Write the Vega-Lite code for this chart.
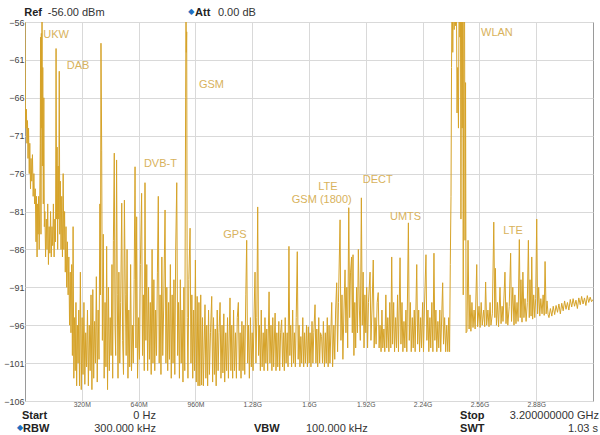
{
  "$schema": "https://vega.github.io/schema/vega-lite/v6.json",
  "width": 568,
  "height": 379,
  "autosize": "none",
  "padding": {"left": 25, "top": 22, "right": 7, "bottom": 34},
  "background": "white",
  "config": {
    "view": {"stroke": "#9a9a9a", "strokeWidth": 1},
    "font": "Liberation Sans"
  },
  "encoding": {
    "x": {
      "field": "f",
      "type": "quantitative",
      "scale": {"domain": [0, 3200], "nice": false, "zero": false},
      "axis": {
        "title": null,
        "values": [320, 640, 960, 1280, 1600, 1920, 2240, 2560, 2880],
        "labelExpr": "datum.value < 1000 ? datum.value + 'M' : (datum.value / 1000) + 'G'",
        "labelFontSize": 6.8,
        "labelColor": "#555555",
        "labelPadding": 0,
        "ticks": false,
        "domain": false,
        "grid": true,
        "gridColor": "#d9d9d9"
      }
    },
    "y": {
      "field": "p",
      "type": "quantitative",
      "scale": {"domain": [-106, -56], "nice": false, "zero": false},
      "axis": {
        "title": null,
        "values": [-56, -61, -66, -71, -76, -81, -86, -91, -96, -101, -106],
        "labelFontSize": 9,
        "labelColor": "#444444",
        "labelPadding": 1,
        "ticks": false,
        "domain": false,
        "grid": true,
        "gridColor": "#d9d9d9"
      }
    }
  },
  "layer": [
    {
      "data": {"values": [
        {"f":0,"p":-56},{"f":2,"p":-67},{"f":5,"p":-70},{"f":8,"p":-67.5},{"f":11,"p":-72},{"f":14,"p":-69},{"f":17,"p":-74},{"f":20,"p":-70},{"f":24,"p":-76},{"f":27,"p":-72},{"f":31,"p":-78},{"f":34,"p":-74},{"f":38,"p":-77},{"f":42,"p":-73.5},{"f":46,"p":-79},{"f":50,"p":-76},{"f":54,"p":-80},{"f":58,"p":-78},
        {"f":62,"p":-85},{"f":65,"p":-79},{"f":68,"p":-87},{"f":71,"p":-80},{"f":74,"p":-84},{"f":77,"p":-79},{"f":80,"p":-86},{"f":83,"p":-80},
        {"f":86,"p":-72},{"f":88,"p":-58},{"f":90,"p":-84},{"f":92,"p":-57.5},{"f":94,"p":-70},{"f":96,"p":-55},{"f":98,"p":-75},{"f":100,"p":-62},{"f":103,"p":-80},{"f":106,"p":-66},{"f":109,"p":-83},
        {"f":112,"p":-81},{"f":116,"p":-87},{"f":120,"p":-82},{"f":124,"p":-86},{"f":128,"p":-80},{"f":132,"p":-88},{"f":136,"p":-83},{"f":140,"p":-86.5},{"f":144,"p":-81},{"f":148,"p":-87},{"f":152,"p":-83},{"f":156,"p":-85.5},{"f":160,"p":-80},{"f":164,"p":-87},{"f":168,"p":-82},
        {"f":172,"p":-85},{"f":175,"p":-59.5},{"f":178,"p":-82},{"f":181,"p":-72.5},{"f":184,"p":-86},{"f":187,"p":-75},{"f":190,"p":-82},{"f":193,"p":-62.5},{"f":196,"p":-84},{"f":199,"p":-77},{"f":203,"p":-86},{"f":207,"p":-79},{"f":211,"p":-87},{"f":215,"p":-76},{"f":219,"p":-86},{"f":223,"p":-81},{"f":227,"p":-89},
        {"f":231,"p":-83},{"f":235,"p":-91},{"f":239,"p":-85},{"f":243,"p":-92},{"f":247,"p":-87},{"f":251,"p":-96},{"f":255,"p":-89},{"f":259,"p":-97},{"f":263,"p":-88},{"f":267,"p":-100},{"f":271,"p":-83},{"f":275,"p":-103},{"f":279,"p":-95},{"f":283,"p":-102},{"f":287,"p":-93},{"f":291,"p":-104},{"f":295,"p":-96},{"f":299,"p":-101},{"f":303,"p":-94},{"f":307,"p":-104},
        {"f":312,"p":-89},{"f":317,"p":-104.5},{"f":322,"p":-95},{"f":327,"p":-102.5},{"f":332,"p":-93},{"f":337,"p":-103.8},{"f":342,"p":-97},{"f":347,"p":-101.5},{"f":352,"p":-94},{"f":357,"p":-104},{"f":362,"p":-96},{"f":367,"p":-102},{"f":372,"p":-92},{"f":377,"p":-104.5},{"f":382,"p":-91.3},{"f":387,"p":-103},{"f":392,"p":-95.5},{"f":397,"p":-101},{"f":402,"p":-89.6},{"f":407,"p":-103.5},{"f":412,"p":-94},{"f":417,"p":-100.5},{"f":422,"p":-80},{"f":425,"p":-92},{"f":428,"p":-58.8},{"f":432,"p":-72.9},{"f":436,"p":-98},{"f":441,"p":-84},{"f":446,"p":-103},{"f":451,"p":-93},{"f":456,"p":-101.5},{"f":460,"p":-85.6},{"f":465,"p":-104.5},{"f":470,"p":-91},{"f":475,"p":-102},{"f":480,"p":-95},{"f":485,"p":-100},{"f":490,"p":-88},{"f":494,"p":-103},{"f":498,"p":-84.8},{"f":503,"p":-73.3},{"f":507,"p":-96},{"f":511,"p":-100},{"f":516,"p":-74.2},{"f":520,"p":-92},{"f":524,"p":-103},{"f":529,"p":-89},{"f":534,"p":-101},{"f":539,"p":-93},{"f":545,"p":-79.9},{"f":550,"p":-98},{"f":555,"p":-102.5},{"f":560,"p":-79.5},{"f":565,"p":-92},{"f":570,"p":-100},{"f":575,"p":-86},{"f":580,"p":-103},{"f":585,"p":-94},{"f":590,"p":-101.5},{"f":595,"p":-88},{"f":600,"p":-102},{"f":605,"p":-96},{"f":610,"p":-101},{"f":615,"p":-90},{"f":620,"p":-75.1},{"f":625,"p":-99},{"f":629,"p":-81.7},{"f":634,"p":-103},{"f":640,"p":-95},{"f":645,"p":-100.5},{"f":650,"p":-88},{"f":657,"p":-78.6},{"f":662,"p":-100},{"f":667,"p":-92},{"f":672,"p":-102},{"f":676,"p":-77.2},{"f":681,"p":-98},{"f":686,"p":-88},{"f":691,"p":-102},{"f":696,"p":-91},{"f":701,"p":-100.5},{"f":706,"p":-93},{"f":711,"p":-102.5},{"f":716,"p":-86},{"f":721,"p":-101},{"f":726,"p":-90},{"f":731,"p":-102},{"f":736,"p":-94},{"f":741,"p":-100},{"f":746,"p":-89},{"f":751,"p":-79},{"f":756,"p":-101},{"f":761,"p":-92},{"f":766,"p":-102.5},{"f":771,"p":-87},{"f":776,"p":-100},{"f":781,"p":-94},{"f":789,"p":-80.8},{"f":794,"p":-101},{"f":799,"p":-91},{"f":804,"p":-102},{"f":809,"p":-93},{"f":814,"p":-100.5},{"f":819,"p":-88},{"f":824,"p":-103},{"f":829,"p":-92},{"f":834,"p":-101},{"f":839,"p":-90},{"f":844,"p":-102.5},{"f":849,"p":-86},{"f":855,"p":-77.2},{"f":860,"p":-100},{"f":865,"p":-93},{"f":870,"p":-103},{"f":875,"p":-90},{"f":880,"p":-101},{"f":885,"p":-94},{"f":890,"p":-103.5},{"f":895,"p":-91},{"f":900,"p":-102},{"f":905,"p":-66},{"f":907,"p":-54},{"f":909,"p":-60},{"f":911,"p":-57.3},{"f":914,"p":-95},{"f":918,"p":-103},{"f":923,"p":-90},{"f":930,"p":-83.2},{"f":935,"p":-101},{"f":940,"p":-92},{"f":945,"p":-103},{"f":950,"p":-94},{"f":955,"p":-102},{"f":960,"p":-87.4},{"f":965,"p":-103.5},{"f":970,"p":-92.2},{"f":975,"p":-104},
        {"f":980,"p":-93},{"f":985,"p":-104},{"f":990,"p":-92},{"f":995,"p":-103.9},{"f":1000,"p":-95},{"f":1005,"p":-104},{"f":1014,"p":-93.3},{"f":1019,"p":-103},{"f":1024,"p":-96},{"f":1029,"p":-104},{"f":1034,"p":-94},{"f":1039,"p":-102.5},{"f":1045,"p":-97},{"f":1052,"p":-92.2},{"f":1057,"p":-103.5},{"f":1062,"p":-95},{"f":1067,"p":-102.5},{"f":1072,"p":-96.5},{"f":1077,"p":-104},{"f":1083,"p":-94},{"f":1088,"p":-102},{"f":1093,"p":-97},{"f":1099,"p":-93},{"f":1104,"p":-103},{"f":1110,"p":-96},{"f":1115,"p":-102.3},{"f":1120,"p":-94.5},{"f":1125,"p":-103.5},{"f":1131,"p":-97},{"f":1136,"p":-102},{"f":1141,"p":-95},{"f":1146,"p":-103},{"f":1155,"p":-92.4},{"f":1160,"p":-102},{"f":1165,"p":-96},{"f":1170,"p":-103},{"f":1175,"p":-94},{"f":1180,"p":-102},{"f":1186,"p":-97},{"f":1191,"p":-103},{"f":1196,"p":-95},{"f":1202,"p":-93},{"f":1207,"p":-102},{"f":1212,"p":-97},{"f":1217,"p":-103},{"f":1222,"p":-95.5},{"f":1228,"p":-102},{"f":1233,"p":-96},{"f":1238,"p":-102.5},{"f":1244,"p":-92},{"f":1249,"p":-84.8},{"f":1254,"p":-101},{"f":1259,"p":-96},{"f":1264,"p":-103},{"f":1270,"p":-95},{"f":1275,"p":-101.5},{"f":1280,"p":-97},{"f":1285,"p":-102},{"f":1291,"p":-94},{"f":1296,"p":-89},{"f":1301,"p":-101},{"f":1306,"p":-95},{"f":1311,"p":-80.4},{"f":1316,"p":-100},{"f":1321,"p":-96},{"f":1326,"p":-102},{"f":1331,"p":-94},{"f":1336,"p":-101.5},{"f":1342,"p":-97},{"f":1347,"p":-102},{"f":1352,"p":-95},{"f":1357,"p":-101},{"f":1362,"p":-96.5},{"f":1367,"p":-102},{"f":1375,"p":-91.6},{"f":1380,"p":-101},{"f":1386,"p":-96},{"f":1391,"p":-102},{"f":1396,"p":-95},{"f":1401,"p":-101.5},{"f":1409,"p":-94.4},{"f":1414,"p":-102},{"f":1419,"p":-97},{"f":1424,"p":-101.5},{"f":1430,"p":-95.5},{"f":1435,"p":-102},{"f":1440,"p":-97},{"f":1446,"p":-95.3},{"f":1451,"p":-101.5},{"f":1456,"p":-97},{"f":1461,"p":-102},{"f":1466,"p":-95},{"f":1471,"p":-101},{"f":1477,"p":-97},{"f":1482,"p":-101.5},{"f":1487,"p":-85.6},{"f":1492,"p":-100},{"f":1497,"p":-96},{"f":1502,"p":-101.5},{"f":1508,"p":-94},{"f":1513,"p":-101},{"f":1518,"p":-97},{"f":1523,"p":-101.5},{"f":1528,"p":-95},{"f":1534,"p":-86.3},{"f":1539,"p":-100.5},{"f":1544,"p":-96},{"f":1549,"p":-101.5},{"f":1554,"p":-97.5},{"f":1559,"p":-101},{"f":1565,"p":-95},{"f":1570,"p":-101.5},{"f":1575,"p":-97},{"f":1580,"p":-101},{"f":1586,"p":-96},{"f":1591,"p":-101.5},{"f":1596,"p":-96.2},{"f":1601,"p":-101},{"f":1606,"p":-97},{"f":1611,"p":-101.5},{"f":1617,"p":-95.5},{"f":1622,"p":-101},{"f":1627,"p":-97},{"f":1634,"p":-93.3},{"f":1639,"p":-101},{"f":1644,"p":-96.5},{"f":1649,"p":-101.5},{"f":1655,"p":-95},{"f":1660,"p":-101},{"f":1665,"p":-97},{"f":1671,"p":-97.5},{"f":1676,"p":-101},{"f":1681,"p":-95.5},{"f":1687,"p":-101.5},{"f":1692,"p":-97},{"f":1697,"p":-101},{"f":1703,"p":-95},{"f":1708,"p":-101.5},{"f":1713,"p":-96},{"f":1718,"p":-101},{"f":1728,"p":-93},{"f":1733,"p":-101.5},{"f":1740,"p":-96},{"f":1745,"p":-100.5},{"f":1750,"p":-94},{"f":1756,"p":-90.4},{"f":1761,"p":-99.5},{"f":1766,"p":-93},{"f":1775,"p":-82.1},{"f":1780,"p":-98},{"f":1786,"p":-92},{"f":1791,"p":-100.5},{"f":1797,"p":-94},{"f":1803,"p":-88.7},{"f":1808,"p":-97},{"f":1813,"p":-91},{"f":1818,"p":-99},{"f":1824,"p":-80.5},{"f":1829,"p":-95},{"f":1834,"p":-89},{"f":1840,"p":-87},{"f":1844,"p":-97},{"f":1848,"p":-86.7},{"f":1853,"p":-100},{"f":1858,"p":-93},{"f":1863,"p":-99},{"f":1868,"p":-91},{"f":1873,"p":-97},{"f":1878,"p":-86},{"f":1884,"p":-94},{"f":1889,"p":-98},{"f":1895,"p":-79.2},{"f":1900,"p":-96},{"f":1905,"p":-89},{"f":1910,"p":-99},{"f":1915,"p":-92},{"f":1920,"p":-97},{"f":1925,"p":-91},{"f":1930,"p":-99},{"f":1935,"p":-93},{"f":1944,"p":-89},{"f":1949,"p":-98},{"f":1955,"p":-94},{"f":1962,"p":-87.4},{"f":1967,"p":-99},{"f":1972,"p":-95},{"f":1978,"p":-98.5},{"f":1984,"p":-93},{"f":1990,"p":-91.7},{"f":1995,"p":-99},{"f":2000,"p":-96},{"f":2006,"p":-99.5},{"f":2011,"p":-94},{"f":2016,"p":-99},{"f":2022,"p":-96.5},{"f":2027,"p":-99.5},{"f":2033,"p":-92},{"f":2038,"p":-99},{"f":2044,"p":-95},{"f":2050,"p":-99.5},{"f":2055,"p":-93},{"f":2061,"p":-99},{"f":2066,"p":-87},{"f":2071,"p":-98.5},{"f":2077,"p":-93},{"f":2082,"p":-99.5},{"f":2088,"p":-95},{"f":2093,"p":-99},{"f":2099,"p":-92},{"f":2104,"p":-99.5},{"f":2113,"p":-87.1},{"f":2118,"p":-98.5},{"f":2124,"p":-93},{"f":2129,"p":-99.5},{"f":2135,"p":-95.5},{"f":2140,"p":-99},{"f":2146,"p":-94},{"f":2151,"p":-99.5},{"f":2160,"p":-82.5},{"f":2165,"p":-98},{"f":2171,"p":-93},{"f":2176,"p":-99.5},{"f":2182,"p":-95},{"f":2187,"p":-99},{"f":2193,"p":-94},{"f":2198,"p":-99.5},{"f":2207,"p":-88},{"f":2212,"p":-98.5},{"f":2218,"p":-94},{"f":2223,"p":-99.5},{"f":2229,"p":-95},{"f":2234,"p":-99},{"f":2240,"p":-93},{"f":2245,"p":-99.5},{"f":2250,"p":-94},{"f":2259,"p":-86.7},{"f":2264,"p":-98},{"f":2270,"p":-94},{"f":2275,"p":-99.5},{"f":2281,"p":-95},{"f":2286,"p":-99},{"f":2292,"p":-93},{"f":2298,"p":-99.5},{"f":2304,"p":-86.5},{"f":2309,"p":-98},{"f":2315,"p":-94},{"f":2320,"p":-99.5},{"f":2326,"p":-95.5},{"f":2331,"p":-99},{"f":2337,"p":-94},{"f":2342,"p":-99.5},{"f":2353,"p":-90.4},{"f":2358,"p":-98.5},{"f":2364,"p":-95},{"f":2370,"p":-99.5},{"f":2376,"p":-96},{"f":2382,"p":-99.5},{"f":2387,"p":-95},{"f":2392,"p":-99.5},
        {"f":2396,"p":-88},{"f":2400,"p":-79},{"f":2403,"p":-62},{"f":2406,"p":-50},{"f":2410,"p":-60},{"f":2414,"p":-50},{"f":2418,"p":-57},{"f":2422,"p":-50},{"f":2426,"p":-56.5},{"f":2430,"p":-50},{"f":2434,"p":-68},{"f":2438,"p":-62},{"f":2442,"p":-70},{"f":2446,"p":-50},{"f":2450,"p":-58},{"f":2453,"p":-50},{"f":2456,"p":-82},{"f":2460,"p":-50},{"f":2463,"p":-70},{"f":2466,"p":-50},{"f":2469,"p":-92},{"f":2472,"p":-56},{"f":2476,"p":-50},{"f":2479,"p":-84.8},{"f":2482,"p":-64},{"f":2485,"p":-97},
        {"f":2490,"p":-96.8},{"f":2496,"p":-84.8},{"f":2502,"p":-96.5},{"f":2507,"p":-92},{"f":2512,"p":-96.8},{"f":2518,"p":-93},{"f":2524,"p":-96.3},{"f":2530,"p":-94},{"f":2536,"p":-96.5},{"f":2545,"p":-88},{"f":2550,"p":-96.2},{"f":2558,"p":-93.5},{"f":2564,"p":-96.3},{"f":2570,"p":-93},{"f":2576,"p":-96},{"f":2584,"p":-94},{"f":2590,"p":-96.2},{"f":2595,"p":-90.3},{"f":2601,"p":-96},{"f":2608,"p":-94},{"f":2614,"p":-96.2},{"f":2620,"p":-93},{"f":2625,"p":-96},{"f":2633,"p":-94.5},{"f":2641,"p":-82.4},{"f":2647,"p":-95},{"f":2650,"p":-88.5},{"f":2656,"p":-96},{"f":2662,"p":-93},{"f":2668,"p":-96.2},{"f":2676,"p":-91},{"f":2682,"p":-95.8},{"f":2688,"p":-93.5},{"f":2693,"p":-95.5},{"f":2704,"p":-89},{"f":2710,"p":-95.8},{"f":2715,"p":-93},{"f":2720,"p":-96},{"f":2728,"p":-93.5},{"f":2736,"p":-86.5},{"f":2741,"p":-95.5},{"f":2748,"p":-91},{"f":2755,"p":-96},{"f":2760,"p":-92},{"f":2766,"p":-95.8},{"f":2772,"p":-93},{"f":2778,"p":-95.5},{"f":2785,"p":-84.7},{"f":2790,"p":-95},{"f":2794,"p":-90},{"f":2800,"p":-95.6},{"f":2805,"p":-89},{"f":2811,"p":-95},{"f":2817,"p":-92.5},{"f":2823,"p":-95.5},{"f":2830,"p":-93},{"f":2836,"p":-84.8},{"f":2841,"p":-95},{"f":2845,"p":-90},{"f":2851,"p":-94.8},{"f":2855,"p":-87},{"f":2860,"p":-95.2},{"f":2866,"p":-92},{"f":2872,"p":-95},{"f":2877,"p":-92.5},{"f":2883,"p":-82},{"f":2888,"p":-94.5},{"f":2894,"p":-91},{"f":2900,"p":-94.8},{"f":2906,"p":-92.5},{"f":2913,"p":-94.5},{"f":2919,"p":-92},{"f":2925,"p":-94.7},{"f":2930,"p":-87.6},{"f":2936,"p":-94.5},{"f":2941,"p":-92.8},{"f":2947,"p":-94.6},
        {"f":2952,"p":-95},{"f":2960,"p":-93.8},{"f":2968,"p":-94.8},{"f":2976,"p":-93.5},{"f":2984,"p":-94.6},{"f":2992,"p":-93.4},{"f":3000,"p":-94.3},{"f":3008,"p":-93.2},{"f":3016,"p":-94.5},{"f":3024,"p":-93.1},{"f":3032,"p":-94.1},{"f":3040,"p":-92.8},{"f":3048,"p":-93.9},{"f":3056,"p":-93},{"f":3064,"p":-94},{"f":3072,"p":-92.6},{"f":3080,"p":-93.6},{"f":3088,"p":-92.5},{"f":3096,"p":-93.5},{"f":3104,"p":-92.7},{"f":3112,"p":-93.8},{"f":3120,"p":-92.4},{"f":3128,"p":-93.3},{"f":3136,"p":-92.2},{"f":3144,"p":-93.2},{"f":3152,"p":-92.4},{"f":3160,"p":-93.4},{"f":3168,"p":-92.1},{"f":3176,"p":-93},{"f":3184,"p":-92.3},{"f":3192,"p":-92.9},{"f":3200,"p":-92.6}
      ]},
      "mark": {"type": "line", "clip": true, "stroke": "#d6a329", "strokeWidth": 1}
    },
    {
      "data": {"values": [
        {"f": 103, "p": -58.15, "t": "UKW"},
        {"f": 235, "p": -62.2, "t": "DAB"},
        {"f": 980, "p": -64.75, "t": "GSM"},
        {"f": 670, "p": -75.1, "t": "DVB-T"},
        {"f": 1117, "p": -84.45, "t": "GPS"},
        {"f": 1652, "p": -78.2, "t": "LTE"},
        {"f": 1503, "p": -79.9, "t": "GSM (1800)"},
        {"f": 1903, "p": -77.3, "t": "DECT"},
        {"f": 2056, "p": -82.1, "t": "UMTS"},
        {"f": 2569, "p": -57.8, "t": "WLAN"},
        {"f": 2695, "p": -84.0, "t": "LTE"}
      ]},
      "mark": {"type": "text", "align": "left", "baseline": "alphabetic", "fontSize": 11, "color": "#d8b25c"},
      "encoding": {"text": {"field": "t"}}
    },
    {
      "data": {"values": [
        {"f": -4, "p": -55.21, "t": "Ref"},
        {"f": 958, "p": -55.21, "t": "Att"},
        {"f": -17, "p": -108.4, "t": "Start"},
        {"f": 2451, "p": -108.4, "t": "Stop"},
        {"f": -11, "p": -110.15, "t": "RBW"},
        {"f": 1290, "p": -110.15, "t": "VBW"},
        {"f": 2451, "p": -110.15, "t": "SWT"}
      ]},
      "mark": {"type": "text", "align": "left", "baseline": "alphabetic", "fontSize": 11, "fontWeight": "bold", "color": "#222222"},
      "encoding": {"text": {"field": "t"}}
    },
    {
      "data": {"values": [
        {"f": 128, "p": -55.21, "t": "-56.00 dBm"},
        {"f": 1087, "p": -55.21, "t": "0.00 dB"},
        {"f": 1583, "p": -110.15, "t": "100.000 kHz"}
      ]},
      "mark": {"type": "text", "align": "left", "baseline": "alphabetic", "fontSize": 11, "color": "#333333"},
      "encoding": {"text": {"field": "t"}}
    },
    {
      "data": {"values": [
        {"f": 738, "p": -108.4, "t": "0 Hz"},
        {"f": 738, "p": -110.15, "t": "300.000 kHz"},
        {"f": 3234, "p": -108.4, "t": "3.200000000 GHz"},
        {"f": 3228, "p": -110.15, "t": "1.03 s"}
      ]},
      "mark": {"type": "text", "align": "right", "baseline": "alphabetic", "fontSize": 11, "color": "#333333"},
      "encoding": {"text": {"field": "t"}}
    },
    {
      "data": {"values": [
        {"f": -28, "p": -109.56, "t": "◆"},
        {"f": 937, "p": -54.64, "t": "◆"}
      ]},
      "mark": {"type": "text", "align": "center", "baseline": "middle", "fontSize": 8, "font": "DejaVu Sans", "color": "#1f6fc0"},
      "encoding": {"text": {"field": "t"}}
    }
  ]
}
